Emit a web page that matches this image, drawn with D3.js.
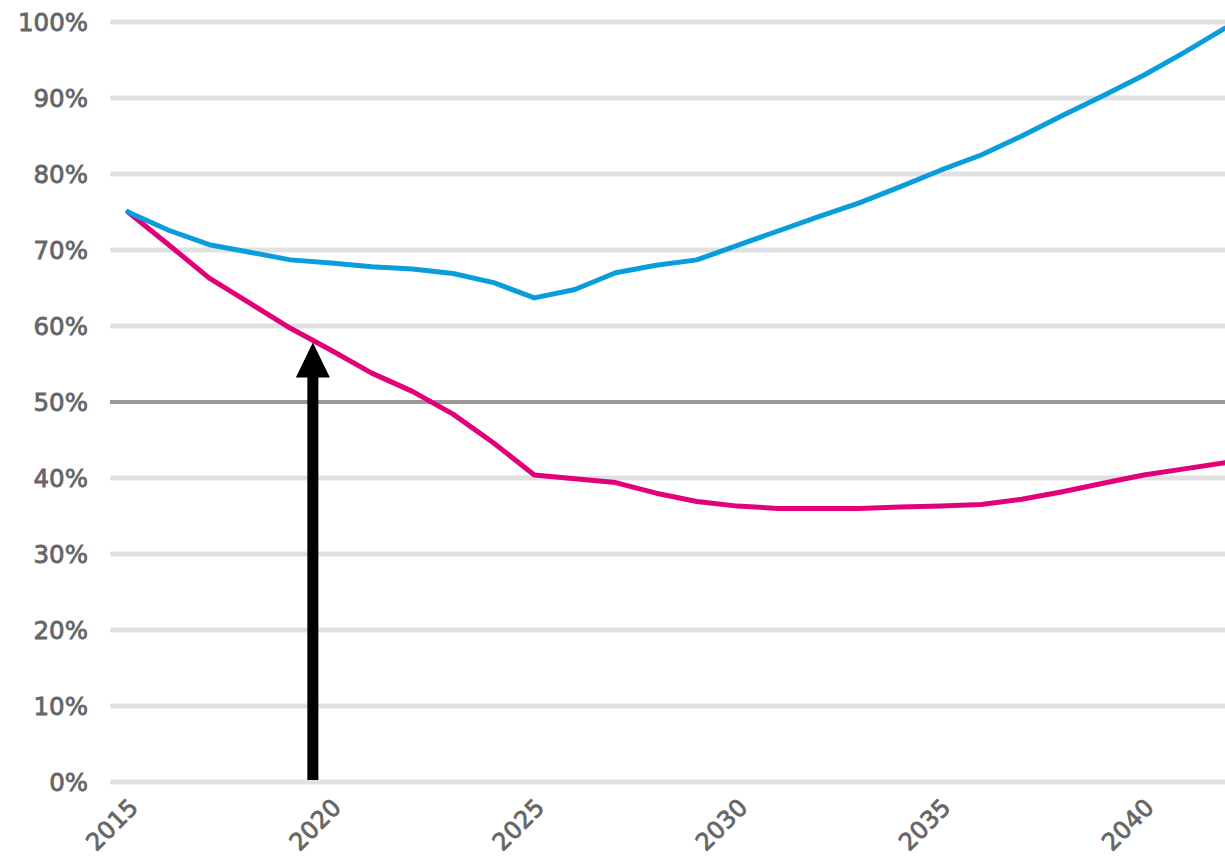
<!DOCTYPE html>
<html>
<head>
<meta charset="utf-8">
<script src="https://cdn.jsdelivr.net/npm/d3@7"></script>
<style>
  html, body { margin: 0; padding: 0; background: #ffffff; }
  svg { display: block; }
  .tick-label {
    font-family: "DejaVu Sans", sans-serif;
    font-weight: normal;
    fill: #666666;
    stroke: #666666;
    stroke-width: 0.8px;
  }
</style>
</head>
<body>
<svg id="chart" width="1225" height="864"></svg>
<script>
// Years on the horizontal axis
const years = [2015, 2016, 2017, 2018, 2019, 2020, 2021, 2022, 2023, 2024,
               2025, 2026, 2027, 2028, 2029, 2030, 2031, 2032, 2033, 2034,
               2035, 2036, 2037, 2038, 2039, 2040, 2041, 2042];

// Upper (blue) series, percent
const upperSeries = [75.0, 72.6, 70.7, 69.7, 68.7, 68.3, 67.8, 67.5, 66.9, 65.7,
                     63.7, 64.8, 67.0, 68.0, 68.7, 70.6, 72.5, 74.4, 76.2, 78.3,
                     80.5, 82.5, 85.0, 87.7, 90.3, 93.0, 96.0, 99.2];

// Lower (magenta) series, percent
const lowerSeries = [75.0, 70.7, 66.3, 63.0, 59.7, 56.8, 53.8, 51.4, 48.4, 44.6,
                     40.4, 39.9, 39.4, 38.0, 36.9, 36.3, 36.0, 36.0, 36.0, 36.2,
                     36.3, 36.5, 37.2, 38.2, 39.3, 40.4, 41.2, 42.0];

// Axis ticks
const xTickYears = [2015, 2020, 2025, 2030, 2035, 2040];
const yTickValues = [0, 10, 20, 30, 40, 50, 60, 70, 80, 90, 100];
const referenceLevel = 50;

// Annotation arrow position (year)
const arrowYear = 2019.55;

const svg = d3.select("#chart");

const x = d3.scaleLinear().domain([2015, 2042]).range([128, 1225]);
const y = d3.scaleLinear().domain([0, 100]).range([782, 22]);
const gridLeft = 110;

// Horizontal grid lines
svg.append("g")
  .selectAll("line")
  .data(yTickValues)
  .join("line")
  .attr("x1", gridLeft)
  .attr("x2", 1225)
  .attr("y1", d => y(d))
  .attr("y2", d => y(d))
  .attr("stroke", d => d === referenceLevel ? "#9a9a9a" : "#e1e1e1")
  .attr("stroke-width", d => d === referenceLevel ? 4 : 5);

// Y axis labels
const yAxis = d3.axisLeft(y)
  .tickValues(yTickValues)
  .tickSize(0)
  .tickPadding(0)
  .tickFormat(d => d + "%");

svg.append("g")
  .attr("transform", "translate(88,0)")
  .call(yAxis)
  .call(g => g.select(".domain").remove())
  .call(g => g.selectAll("text")
    .attr("class", "tick-label")
    .attr("font-size", 24.5)
    .attr("dy", "0.36em"));

// X axis labels, rotated
const xAxis = d3.axisBottom(x)
  .tickValues(xTickYears)
  .tickSize(0)
  .tickPadding(0)
  .tickFormat(d3.format("d"));

svg.append("g")
  .attr("transform", "translate(0,782)")
  .call(xAxis)
  .call(g => g.select(".domain").remove())
  .call(g => g.selectAll("text")
    .attr("class", "tick-label")
    .attr("font-size", 24)
    .attr("text-anchor", "end")
    .attr("dy", null)
    .attr("y", 0)
    .attr("transform", "translate(11,27) rotate(-45)"));

// Series lines
const line = d3.line()
  .x((d, i) => x(years[i]))
  .y(d => y(d))
  .curve(d3.curveLinear);

svg.append("path")
  .datum(lowerSeries)
  .attr("d", line)
  .attr("fill", "none")
  .attr("stroke", "#e2007a")
  .attr("stroke-width", 5)
  .attr("stroke-linejoin", "round")
  .attr("stroke-linecap", "round");

svg.append("path")
  .datum(upperSeries)
  .attr("d", line)
  .attr("fill", "none")
  .attr("stroke", "#0a9ddb")
  .attr("stroke-width", 5)
  .attr("stroke-linejoin", "round")
  .attr("stroke-linecap", "round");

// Arrow from the baseline up to the lower series
const lowerAt = d3.scaleLinear().domain(years).range(lowerSeries);
const tipValue = lowerAt(arrowYear);
const ax = x(arrowYear);
const tipY = y(tipValue) + 2;
const baseY = y(0) - 2;
const headLen = 35, headHalf = 17, shaftHalf = 5.5;

const arrowPath = d3.path();
arrowPath.moveTo(ax - shaftHalf, baseY);
arrowPath.lineTo(ax - shaftHalf, tipY + headLen);
arrowPath.lineTo(ax - headHalf, tipY + headLen);
arrowPath.lineTo(ax, tipY);
arrowPath.lineTo(ax + headHalf, tipY + headLen);
arrowPath.lineTo(ax + shaftHalf, tipY + headLen);
arrowPath.lineTo(ax + shaftHalf, baseY);
arrowPath.closePath();

svg.append("path")
  .attr("d", arrowPath.toString())
  .attr("fill", "#000000");
</script>
</body>
</html>
